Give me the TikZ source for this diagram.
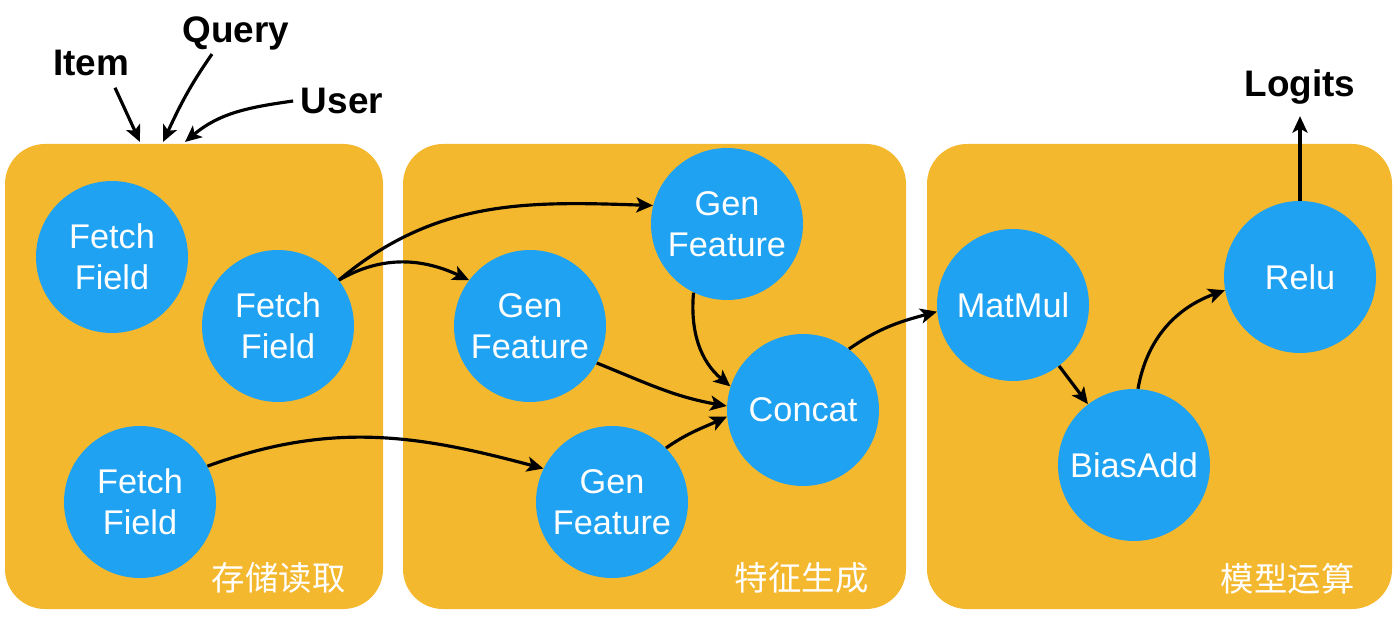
\documentclass[tikz,border=0pt]{standalone}
\usepackage{fontspec}
\setmainfont{Liberation Sans}
\newfontfamily\cjkfont{Noto Sans CJK SC}
\usepackage{tikz}
\usetikzlibrary{positioning,arrows.meta}
\definecolor{panelorange}{RGB}{244,184,46}
\definecolor{nodeblue}{RGB}{31,162,242}

\begin{document}
\begin{tikzpicture}[
    panel/.style={fill=panelorange, rounded corners=0.8cm, minimum height=9.3cm, inner sep=0pt},
    op/.style={circle, fill=nodeblue, minimum size=3.04cm, inner sep=0pt, align=center, text=white, font=\fontsize{19.5}{23.5}\selectfont},
    tag/.style={anchor=east, inner sep=0pt, text=white, font=\cjkfont\fontsize{19}{22}\selectfont},
    io/.style={font=\bfseries\fontsize{21}{25}\selectfont, inner sep=2pt},
    line/.style={draw, -{Stealth[length=3.3mm, width=3mm, inset=0.8mm]}, line width=1.8pt}
]
    \useasboundingbox (0,0) rectangle (28,12.32);

    % Panels
    \node[panel, minimum width=7.56cm] (store) at (3.88,4.79) {};
    \node[panel, minimum width=10.06cm] (gen) at (13.09,4.79) {};
    \node[panel, minimum width=9.30cm] (model) at (23.19,4.79) {};
    \node[tag] at ([xshift=-0.75cm, yshift=0.62cm]store.south east) {存储读取};
    \node[tag] at ([xshift=-0.75cm, yshift=0.62cm]gen.south east) {特征生成};
    \node[tag] at ([xshift=-0.75cm, yshift=0.62cm]model.south east) {模型运算};

    % Inputs and output
    \node[io] (item) at (1.82,11.07) {Item};
    \node[io] (query) at (4.72,11.65) {Query};
    \node[io] (user) at (6.84,10.30) {User};
    \node[io] (logits) at (26.0,10.57) {Logits};
    \coordinate (initem) at (2.80,9.48);
    \coordinate (inquery) at (3.26,9.48);
    \coordinate (inuser) at (3.70,9.48);

    % Nodes
    \node[op] (fetch1) at (2.24,7.18) {Fetch\\Field};
    \node[op] (fetch2) at (5.56,5.80) {Fetch\\Field};
    \node[op] (fetch3) at (2.80,2.28) {Fetch\\Field};
    \node[op] (gentop) at (14.54,7.84) {Gen\\Feature};
    \node[op] (genmid) at (10.60,5.80) {Gen\\Feature};
    \node[op] (genbot) at (12.24,2.28) {Gen\\Feature};
    \node[op] (concat) at (16.06,4.12) {Concat};
    \node[op] (matmul) at (20.26,6.22) {MatMul};
    \node[op] (biasadd) at (22.68,3.02) {BiasAdd};
    \node[op] (relu) at (26.00,6.78) {Relu};

    % Connections
    \draw[line] ([shift={(0.48,-0.17)}]item.south) -- (initem);
    \draw[line] ([xshift=-0.48cm]query.south) to[out=235, in=65] (inquery);
    \draw[line] ([xshift=-0.08cm]user.west) to[out=188, in=40] (inuser);
    \draw[line] (fetch2.37) to[out=30, in=155] (genmid.143);
    \draw[line] (fetch2.37) to[out=40, in=178] (gentop.166);
    \draw[line] (fetch3.28) to[out=20, in=165] (genbot.154);
    \draw[line] (gentop.244) to[out=-95, in=140] (concat.162);
    \draw[line] (genmid.-29) to[out=-22, in=170] (concat.177);
    \draw[line] (genbot.45) to[out=35, in=205] (concat.185);
    \draw[line] (concat.53) to[out=35, in=195] (matmul.185);
    \draw[line] (matmul) -- (biasadd);
    \draw[line] (biasadd.87) to[out=80, in=200] (relu.190);
    \draw[line, shorten >=0.15cm] (relu) -- (logits);
\end{tikzpicture}
\end{document}
